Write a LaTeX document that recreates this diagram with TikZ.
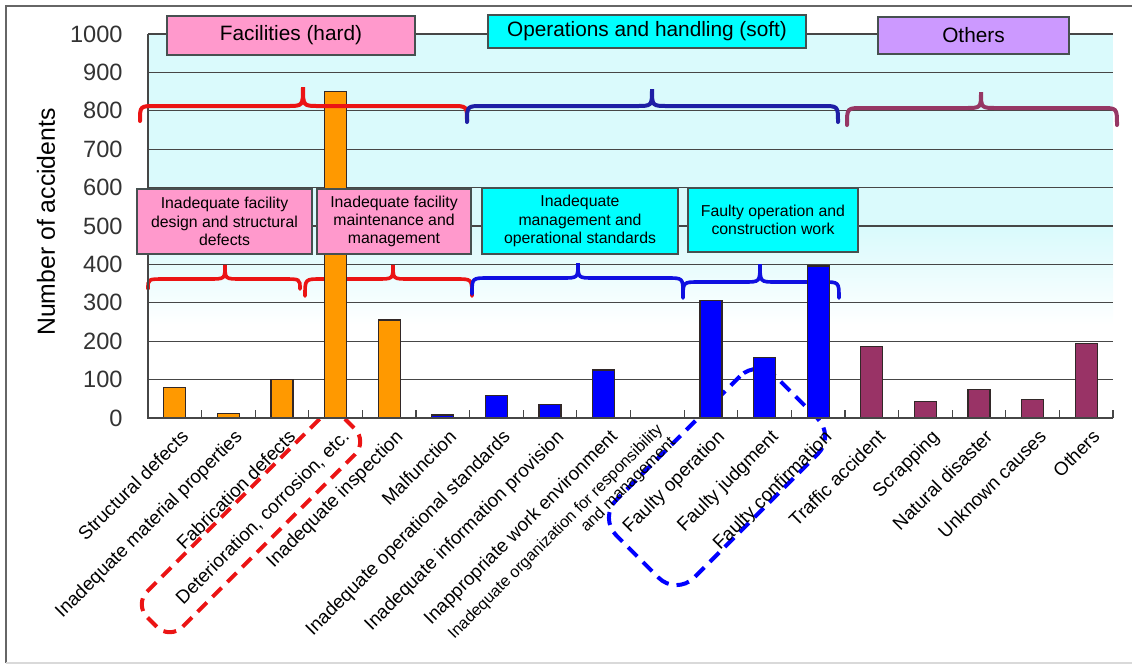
\documentclass[tikz,border=0pt]{standalone}
\usepackage{fontspec}
\setmainfont{Liberation Sans}
\definecolor{bgc}{RGB}{218,250,252}
\definecolor{pinkc}{RGB}{255,153,204}
\definecolor{cyanc}{RGB}{0,255,255}
\definecolor{purc}{RGB}{204,153,255}
\definecolor{orc}{RGB}{255,153,0}
\definecolor{bluc}{RGB}{0,0,255}
\definecolor{marc}{RGB}{153,51,102}
\definecolor{redb}{RGB}{235,20,20}
\definecolor{navyb}{RGB}{30,30,165}
\definecolor{blueb}{RGB}{15,15,225}
\definecolor{marb}{RGB}{150,55,100}
\definecolor{gridc}{RGB}{70,70,70}
\definecolor{boxline}{RGB}{70,80,80}
\definecolor{barline}{RGB}{50,40,40}
\newcommand{\mybrace}[7]{\draw[#1] (#2,#5) .. controls (#2,#6) and (#2,#6) .. (#2+16,#6) -- (#4-16,#6) .. controls (#4,#6) and (#4,#6) .. (#4,#7) .. controls (#4,#6) and (#4,#6) .. (#4+16,#6) -- (#3-16,#6) .. controls (#3,#6) and (#3,#6) .. (#3,#5);}
\begin{document}
\begin{tikzpicture}[x=0.5pt,y=-0.5pt,
  hdr/.style={draw=boxline, line width=0.6pt, inner sep=0pt, font=\fontsize{10.4}{12}\selectfont},
  sub/.style={draw=boxline, line width=0.6pt, inner sep=0pt, align=center, font=\fontsize{7.9}{9.2}\selectfont},
  catlab/.style={anchor=north east, rotate=45, inner sep=0pt, font=\fontsize{9.4}{11}\selectfont},
  ylab/.style={anchor=east, inner sep=0pt, text=black!80, font=\fontsize{11.8}{14}\selectfont},
  topbrace/.style={line width=2pt, line cap=round},
  lowbrace/.style={line width=1.8pt, line cap=round},
  dashbox/.style={line width=2pt, inner sep=0pt, dash pattern=on 6.5pt off 4pt}]
\useasboundingbox (0,0) rectangle (1132,666);
% frame
\draw[black!60, line width=0.6pt] (6,663) -- (6,6) -- (1132,6);
\draw[black!15, line width=0.6pt] (6,663) -- (1132,663);
% plot background
\fill[bgc] (148,34) rectangle (1113,230);
\shade[top color=bgc, bottom color=white] (148,230) rectangle (1113,325);
% gridlines
\foreach \v in {100,200,...,1000}{\draw[gridc, line width=0.65pt] (148,418-\v*0.384) -- (1113,418-\v*0.384);}
% y labels
\foreach \v in {0,100,...,1000}{\node[ylab] (y\v) at (123,418-\v*0.384) {\v};}
\node[rotate=90, inner sep=0pt, font=\fontsize{12.4}{14}\selectfont] (ytitle) at (46,222) {Number of accidents};
% lower braces (behind bars)
\mybrace{redb, lowbrace}{148}{300}{225}{289}{279}{265}
\mybrace{redb, lowbrace}{305}{472}{393}{296}{279}{265}
\mybrace{blueb, lowbrace}{472}{683}{578}{294}{278}{263}
\mybrace{blueb, lowbrace}{683}{839}{760}{298}{282}{264}
% dashed highlight boxes
\node[dashbox, draw=redb, rounded corners=9pt, minimum width=140pt, minimum height=25pt, rotate=45] (redbox) at (251,523) {};
\node[dashbox, draw=bluc, rounded corners=12.5pt, minimum width=112.5pt, minimum height=55pt, rotate=45] (bluebox) at (717,477) {};
% bars
\foreach \i/\v/\c in {0/80/orc,1/12/orc,2/100/orc,3/850/orc,4/255/orc,5/8/bluc,6/58/bluc,7/36/bluc,8/125/bluc,9/2/bluc,10/305/bluc,11/158/bluc,12/396/bluc,13/186/marc,14/42/marc,15/75/marc,16/48/marc,17/195/marc}{
  \pgfmathsetmacro\cx{148+(\i+0.5)*53.61}
  \pgfmathsetmacro\ytp{418-\v*0.384}
  \draw[fill=\c, draw=barline, line width=0.6pt] (\cx-11,418) rectangle (\cx+11,\ytp);
}
% axes
\draw[gridc, line width=0.8pt] (148,34) -- (148,418) -- (1113,418);
\foreach \k in {1,...,18}{\draw[gridc, line width=0.6pt] (148+\k*53.61,418) -- ++(0,-8);}
% top braces
\mybrace{redb, topbrace}{140}{467}{303}{121}{106}{87}
\mybrace{navyb, topbrace}{467}{838}{652}{122}{106}{89}
\mybrace{marb, topbrace}{847}{1117}{981}{125}{108}{92}
% header boxes
\node[hdr, fill=pinkc, minimum width=124pt, minimum height=19.5pt] (hard) at (291,35.5) {Facilities (hard)};
\node[hdr, fill=cyanc, minimum width=159pt, minimum height=16.5pt] (soft) at (647,31.5) {Operations and handling (soft)};
\node[hdr, fill=purc, minimum width=95.5pt, minimum height=18.5pt] (oth) at (973.5,35.5) {Others};
% sub boxes
\node[sub, fill=pinkc, minimum width=87.5pt, minimum height=32.5pt] (s1) at (224.5,221.5) {Inadequate facility\\design and structural\\defects};
\node[sub, fill=pinkc, minimum width=77pt, minimum height=32.5pt] (s2) at (394,221.5) {Inadequate facility\\maintenance and\\management};
\node[sub, fill=cyanc, minimum width=98pt, minimum height=33pt] (s3) at (580,221) {Inadequate\\management and\\operational standards};
\node[sub, fill=cyanc, minimum width=85pt, minimum height=32pt] (s4) at (773,220) {Faulty operation and\\construction work};
% category labels
\foreach \i/\t in {0/Structural defects,1/Inadequate material properties,2/Fabrication defects,3/{Deterioration, corrosion, etc.},4/Inadequate inspection,5/Malfunction,6/Inadequate operational standards,7/Inadequate information provision,8/Inappropriate work environment,10/Faulty operation,11/Faulty judgment,12/Faulty confirmation,13/Traffic accident,14/Scrapping,15/Natural disaster,16/Unknown causes,17/Others}{
  \pgfmathsetmacro\cx{148+(\i+0.5)*53.61}
  \node[catlab] (c\i) at (\cx+5,428) {\t};
}
\node[catlab, align=right, font=\fontsize{8.1}{9}\selectfont] (c9) at (655,422) {Inadequate organization for responsibility\\and management};
\end{tikzpicture}
\end{document}
